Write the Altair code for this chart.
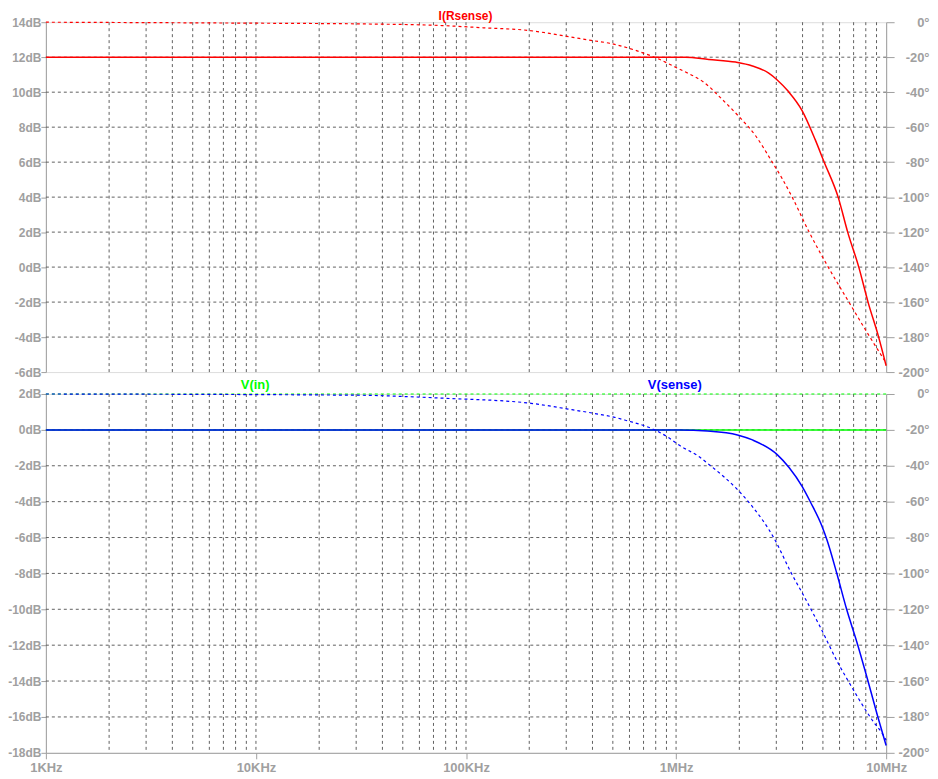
import altair as alt
import pandas as pd

# ---- values (frequency in Hz) ----
# I(Rsense): magnitude (solid) and phase (dashed)
irs_mag_freq = [1e3, 1.11e6, 1.43e6, 1.92e6, 2.31e6, 2.75e6, 3.03e6, 3.42e6, 3.98e6,
                4.59e6, 5.05e6, 5.91e6, 6.56e6, 7.41e6, 8.20e6, 9.21e6, 1e7]
irs_mag_db = [12.0, 12.0, 11.87, 11.72, 11.5, 11.1, 10.7, 10.05, 8.95,
              7.3, 6.05, 4.0, 2.0, 0.0, -2.0, -4.0, -5.64]
irs_ph_freq = [1e3, 11.3e3, 33.3e3, 76.4e3, 121e3, 198e3, 296e3, 394e3, 490e3, 589e3,
               709e3, 800e3, 912e3, 1.02e6, 1.22e6, 1.34e6, 1.66e6, 1.98e6, 2.39e6,
               2.87e6, 3.20e6, 3.57e6, 4.30e6, 5.30e6, 6.65e6, 8.37e6, 1e7]
irs_ph_deg = [0.0, -0.6, -1.0, -1.9, -3.2, -4.7, -7.9, -10.4, -12.2, -14.7,
              -17.9, -20.3, -23.5, -26.4, -31.0, -33.9, -44.2, -53.6, -64.9,
              -80.0, -89.4, -100.0, -120.0, -140.0, -160.0, -180.0, -194.8]

# V(sense): magnitude (solid) and phase (dashed)
vs_mag_freq = [1e3, 1.04e6, 1.41e6, 1.96e6, 2.31e6, 3.03e6, 3.45e6, 3.98e6, 4.36e6,
               4.95e6, 5.22e6, 5.83e6, 6.47e6, 7.33e6, 8.17e6, 9.11e6, 1e7]
vs_mag_db = [0.0, 0.0, -0.06, -0.28, -0.56, -1.38, -2.1, -3.15, -4.02,
             -5.37, -6.11, -8.02, -9.96, -12.0, -13.94, -15.96, -17.59]
vs_ph_freq = [1e3, 31.9e3, 53.3e3, 79.9e3, 204e3, 306e3, 425e3, 511e3, 589e3, 710e3,
              792e3, 912e3, 1.05e6, 1.27e6, 1.46e6, 1.96e6, 2.27e6, 2.92e6, 3.55e6,
              4.06e6, 4.87e6, 6.00e6, 6.52e6, 7.41e6, 8.11e6, 8.73e6, 9.56e6, 1e7]
vs_ph_deg = [0.0, -0.7, -1.5, -2.4, -5.2, -8.4, -11.2, -13.0, -15.0, -17.8,
             -20.0, -24.0, -29.0, -34.5, -40.0, -53.3, -61.7, -80.2, -100.2,
             -112.6, -130.2, -151.5, -158.9, -170.0, -177.4, -183.0, -189.0, -193.0]

# V(in): flat
vin_freq = [1e3, 1e7]
vin_db = [0.0, 0.0]
vin_deg = [0.0, 0.0]

decades = [1e3, 1e4, 1e5, 1e6, 1e7]
top_db_ticks = list(range(-6, 15, 2))
bot_db_ticks = list(range(-18, 3, 2))
deg_ticks = list(range(-200, 1, 20))
grid_freq = [m * d for d in decades[:-1] for m in range(1, 10)][1:]

GRAY = "#a0a0a0"
GRID = "#606060"
FONT = "Liberation Sans"
RED, GREEN, BLUE = "#ff0000", "#00ff00", "#0000ff"
W = 843

xscale = alt.Scale(type="log", domain=[1e3, 1e7], nice=False)
deg_scale = alt.Scale(domain=[-200, 0], nice=False, zero=False)

x_axis = alt.Axis(values=decades, title=None, grid=False, labelFlush=False, labelOverlap=False,
                  labelExpr="datum.value >= 1e6 ? (datum.value / 1e6) + 'MHz' : (datum.value / 1e3) + 'KHz'",
                  domainColor=GRAY, tickColor=GRAY, tickSize=6, labelPadding=3,
                  labelColor=GRAY, labelFont=FONT, labelFontSize=13, labelFontWeight="bold")


def left_axis(ticks):
    return alt.Axis(orient="left", values=ticks, title=None, grid=False,
                    labelExpr="datum.value + 'dB'", domainColor=GRAY, tickColor=GRAY,
                    tickSize=5, labelPadding=0, labelColor=GRAY, labelFont=FONT,
                    labelFontSize=12, labelFontWeight="bold")


right_axis = alt.Axis(orient="right", values=deg_ticks, title=None, grid=False,
                      labelExpr="datum.value + '°'", domainColor=GRAY, tickColor=GRAY,
                      tickSize=8, labelPadding=35, labelAlign="right", labelColor=GRAY,
                      labelFont=FONT, labelFontSize=13, labelFontWeight="bold")


def panel(height, db_ticks, traces, labels, xaxis):
    x = alt.X("f:Q", scale=xscale, axis=xaxis)
    db_scale = alt.Scale(domain=[db_ticks[0], db_ticks[-1]], nice=False, zero=False)

    hgrid = alt.Chart(pd.DataFrame({"v": db_ticks[1:-1]})).mark_rule(
        color=GRID, strokeDash=[3, 3], strokeWidth=1
    ).encode(y=alt.Y("v:Q", scale=db_scale, axis=left_axis(db_ticks)))

    vgrid = alt.Chart(pd.DataFrame({"f": grid_freq})).mark_rule(
        color=GRID, strokeDash=[3, 3], strokeWidth=1
    ).encode(x=x)

    layers = [hgrid, vgrid]
    has_right = False
    for freq, vals, kind, color, dashed in traces:
        df = pd.DataFrame({"f": freq, "v": vals})
        style = dict(color=color, interpolate="monotone", strokeWidth=1.2 if dashed else 1.5)
        if dashed:
            style["strokeDash"] = [3, 3]
        if kind == "deg":
            axis = None if has_right else right_axis
            has_right = True
            y = alt.Y("v:Q", scale=deg_scale, axis=axis)
        else:
            y = alt.Y("v:Q", scale=db_scale, axis=None)
        layers.append(alt.Chart(df).mark_line(**style).encode(x=x, y=y))

    for text, color, xpx, ypx, size in labels:
        layers.append(
            alt.Chart(pd.DataFrame({"t": [text]})).mark_text(
                color=color, font=FONT, fontSize=size, fontWeight="bold", baseline="middle"
            ).encode(text="t:N", x=alt.value(xpx), y=alt.value(ypx))
        )

    return alt.layer(*layers).resolve_scale(y="independent").properties(width=W, height=height)


top = panel(
    351, top_db_ticks,
    [(irs_ph_freq, irs_ph_deg, "deg", RED, True),
     (irs_mag_freq, irs_mag_db, "db", RED, False)],
    [("I(Rsense)", RED, 421, -6, 12)],
    None,
)

bottom = panel(
    360, bot_db_ticks,
    [(vin_freq, vin_deg, "deg", GREEN, True),
     (vin_freq, vin_db, "db", GREEN, False),
     (vs_ph_freq, vs_ph_deg, "deg", BLUE, True),
     (vs_mag_freq, vs_mag_db, "db", BLUE, False)],
    [("V(in)", GREEN, 210, -9.5, 13), ("V(sense)", BLUE, 631, -9.5, 13)],
    x_axis,
)

chart = alt.vconcat(top, bottom, spacing=22, bounds="flush").properties(
    padding={"left": -1, "top": 0, "right": 0, "bottom": 0},
).configure_view(stroke=GRAY, strokeWidth=1).configure(background="white")

chart.save("out.html", embed_options={"renderer": "svg", "actions": False})
